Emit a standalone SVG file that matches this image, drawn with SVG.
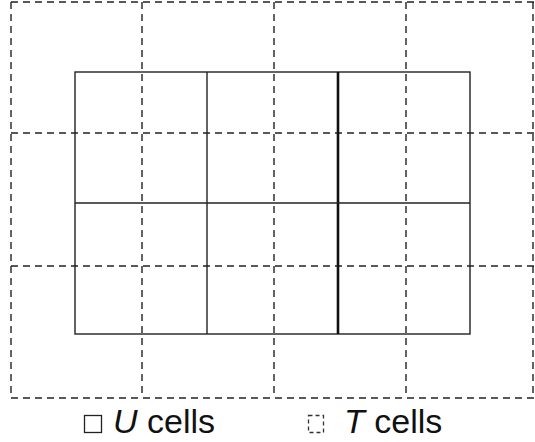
<svg xmlns="http://www.w3.org/2000/svg" width="535" height="442" viewBox="0 0 535 442">
<style>
.dash{stroke:#222;stroke-width:1.4;stroke-dasharray:7,5;fill:none}
.solid{stroke:#222;stroke-width:1.4;fill:none}
.thick{stroke:#111;stroke-width:2.6;fill:none}
.lbl{font-family:"Liberation Sans",Arial,sans-serif;font-size:34px;fill:#111}
</style>
<rect width="535" height="442" fill="#fff"/>
<g id="t-cells">
<line class="dash" x1="11" y1="2" x2="11" y2="398"/>
<line class="dash" x1="142" y1="2" x2="142" y2="398"/>
<line class="dash" x1="274" y1="2" x2="274" y2="398"/>
<line class="dash" x1="406" y1="2" x2="406" y2="398"/>
<line class="dash" x1="533" y1="2" x2="533" y2="398" stroke="#bbb"/>
<line class="dash" x1="11" y1="2" x2="535" y2="2"/>
<line class="dash" x1="11" y1="133" x2="535" y2="133"/>
<line class="dash" x1="11" y1="266" x2="535" y2="266"/>
<line class="dash" x1="11" y1="398" x2="535" y2="398"/>
</g>
<g id="u-cells">
<rect class="solid" x="75" y="72" width="395" height="262"/>
<line class="solid" x1="207" y1="72" x2="207" y2="334"/>
<line class="thick" x1="338" y1="72" x2="338" y2="334"/>
<line class="solid" x1="75" y1="203" x2="470" y2="203"/>
</g>
<g id="legend">
<rect x="84.5" y="415.5" width="17" height="17" fill="none" stroke="#222" stroke-width="1.3"/>
<text class="lbl" x="113" y="433"><tspan font-style="italic">U</tspan> cells</text>
<rect x="308.5" y="415.5" width="15" height="17" fill="none" stroke="#333" stroke-width="1.3" stroke-dasharray="4,3"/>
<text class="lbl" x="344" y="433"><tspan font-style="italic">T</tspan> cells</text>
</g>
</svg>
